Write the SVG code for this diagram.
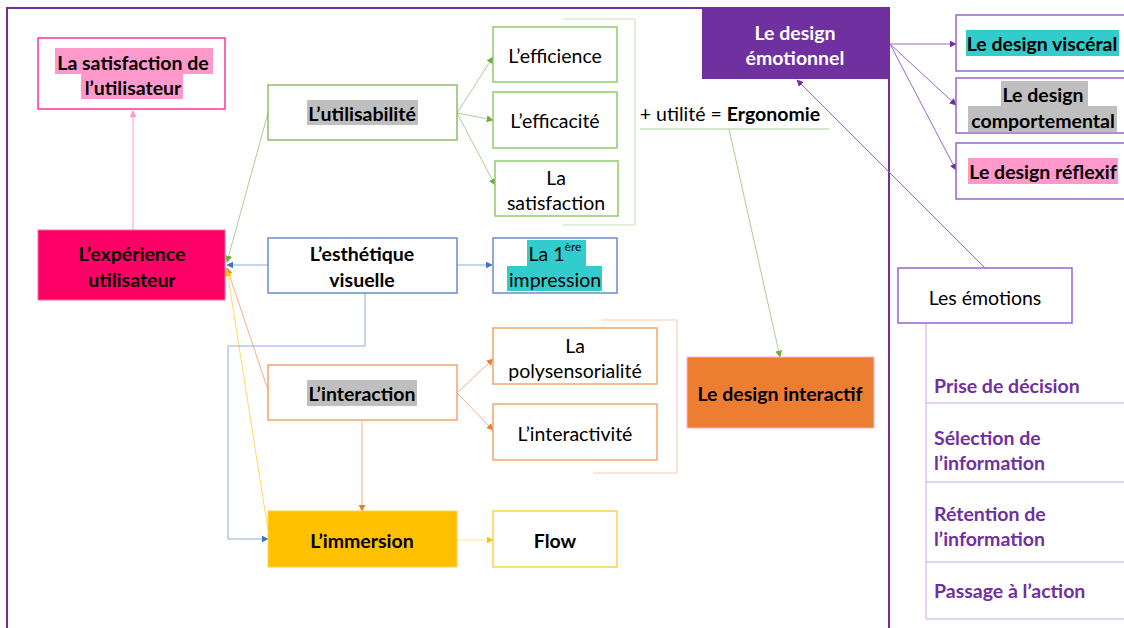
<svg xmlns="http://www.w3.org/2000/svg" width="1124" height="628" viewBox="0 0 1124 628">
<defs>
<style>
text{font-family:Lato,"Open Sans","Liberation Sans",sans-serif;font-size:19.5px;fill:#000;text-anchor:middle;dominant-baseline:central}
.b{font-weight:bold}
.w{fill:#fff}
.p{fill:#7030A0;font-weight:bold;text-anchor:start}
.box{fill:#fff;stroke-width:1.5}
.c{fill:none;stroke-width:1}
</style>
<marker id="ag" viewBox="0 0 10 10" refX="9" refY="5" markerWidth="7" markerHeight="7" orient="auto"><path d="M0,0L10,5L0,10z" fill="#70AD47"/></marker>
<marker id="ab" viewBox="0 0 10 10" refX="9" refY="5" markerWidth="7" markerHeight="7" orient="auto"><path d="M0,0L10,5L0,10z" fill="#4472C4"/></marker>
<marker id="ao" viewBox="0 0 10 10" refX="9" refY="5" markerWidth="7" markerHeight="7" orient="auto"><path d="M0,0L10,5L0,10z" fill="#ED7D31"/></marker>
<marker id="ay" viewBox="0 0 10 10" refX="9" refY="5" markerWidth="7" markerHeight="7" orient="auto"><path d="M0,0L10,5L0,10z" fill="#FFC000"/></marker>
<marker id="ap" viewBox="0 0 10 10" refX="9" refY="5" markerWidth="7" markerHeight="7" orient="auto"><path d="M0,0L10,5L0,10z" fill="#FF99CC"/></marker>
<marker id="av" viewBox="0 0 10 10" refX="9" refY="5" markerWidth="7" markerHeight="7" orient="auto"><path d="M0,0L10,5L0,10z" fill="#7030A0"/></marker>
</defs>
<rect width="1124" height="628" fill="#fff"/>
<rect id="frame" x="7" y="8" width="882" height="640" fill="none" stroke="#7030A0" stroke-width="2"/>

<g id="connectors">
<line class="c" x1="133" y1="230" x2="133" y2="111" stroke="#FF99CC" marker-end="url(#ap)"/>
<line class="c" x1="268" y1="113" x2="227" y2="262" stroke="#A9D18E" marker-end="url(#ag)"/>
<line class="c" x1="268" y1="265" x2="227" y2="265" stroke="#8FAADC" marker-end="url(#ab)"/>
<line class="c" x1="268" y1="390" x2="227" y2="268" stroke="#F4B183" marker-end="url(#ao)"/>
<line class="c" x1="268" y1="530" x2="227" y2="270" stroke="#FFD966" marker-end="url(#ay)"/>
<line class="c" x1="457" y1="113" x2="493" y2="57" stroke="#A9D18E" marker-end="url(#ag)"/>
<line class="c" x1="457" y1="113" x2="493" y2="120" stroke="#A9D18E" marker-end="url(#ag)"/>
<line class="c" x1="457" y1="113" x2="495" y2="185" stroke="#A9D18E" marker-end="url(#ag)"/>
<path class="c" d="M563,19H635V225H563" stroke="#C5E0B4"/>
<line class="c" x1="640" y1="129" x2="829" y2="129" stroke="#A9D18E"/>
<line class="c" x1="729" y1="129" x2="780" y2="357" stroke="#A9D18E" marker-end="url(#ag)"/>
<line class="c" x1="457" y1="265" x2="492" y2="265" stroke="#8FAADC" marker-end="url(#ab)"/>
<path class="c" d="M365,293V346H228V539H268" stroke="#8FAADC" marker-end="url(#ab)"/>
<line class="c" x1="457" y1="393" x2="493" y2="359" stroke="#F4B183" marker-end="url(#ao)"/>
<line class="c" x1="457" y1="393" x2="493" y2="430" stroke="#F4B183" marker-end="url(#ao)"/>
<line class="c" x1="362" y1="420" x2="362" y2="511" stroke="#F4B183" marker-end="url(#ao)"/>
<path class="c" d="M601,320H677V473H593" stroke="#F8CBAD"/>
<line class="c" x1="457" y1="540" x2="493" y2="540" stroke="#FFE699" marker-end="url(#ay)"/>
<line class="c" x1="890" y1="44" x2="956" y2="44" stroke="#9966CC" marker-end="url(#av)"/>
<line class="c" x1="890" y1="44" x2="956" y2="105" stroke="#9966CC" marker-end="url(#av)"/>
<line class="c" x1="890" y1="44" x2="956" y2="170" stroke="#9966CC" marker-end="url(#av)"/>
<line class="c" x1="985" y1="268" x2="797" y2="80" stroke="#9966CC" marker-end="url(#av)"/>
<path class="c" d="M926,323V619" stroke="#C9A8E0"/>
<path class="c" d="M926,403H1124M926,482H1124M926,562H1124M926,619H1124" stroke="#C9A8E0"/>
</g>

<g id="satisfaction-utilisateur">
<rect class="box" x="38" y="38" width="187" height="71" stroke="#FF3399"/>
<rect x="55" y="48" width="158" height="26" fill="#FF99CC"/>
<rect x="81" y="74" width="102" height="25" fill="#FF99CC"/>
<text class="b" x="133" y="62">La satisfaction de</text>
<text class="b" x="133" y="87">l’utilisateur</text>
</g>
<g id="experience-utilisateur">
<rect x="38" y="230" width="187" height="70" fill="#FF0066" stroke="#FF66A0"/>
<text class="b" x="132" y="253">L’expérience</text>
<text class="b" x="132" y="279">utilisateur</text>
</g>
<g id="utilisabilite">
<rect class="box" x="268" y="85" width="189" height="55" stroke="#70AD47" stroke-opacity="0.8"/>
<rect x="307" y="100" width="111" height="25" fill="#BFBFBF"/>
<text class="b" x="362" y="113">L’utilisabilité</text>
</g>
<g id="efficience">
<rect class="box" x="493" y="27" width="124" height="55" stroke="#8FCB6A"/>
<text x="555" y="55">L’efficience</text>
</g>
<g id="efficacite">
<rect class="box" x="493" y="92" width="124" height="56" stroke="#8FCB6A"/>
<text x="555" y="120">L’efficacité</text>
</g>
<g id="la-satisfaction">
<rect class="box" x="495" y="161" width="123" height="55" stroke="#8FCB6A"/>
<text x="556" y="177">La</text>
<text x="556" y="202">satisfaction</text>
</g>
<g id="ergonomie">
<text x="730" y="113">+ utilité = <tspan class="b">Ergonomie</tspan></text>
</g>
<g id="esthetique">
<rect class="box" x="268" y="238" width="189" height="55" stroke="#4472C4" stroke-opacity="0.8"/>
<text class="b" x="362" y="253">L’esthétique</text>
<text class="b" x="362" y="279">visuelle</text>
</g>
<g id="premiere-impression">
<rect class="box" x="493" y="238" width="124" height="55" stroke="#4472C4" stroke-opacity="0.8"/>
<rect x="527" y="240" width="59" height="26" fill="#33CCCC"/>
<rect x="507" y="266" width="95" height="25" fill="#33CCCC"/>
<text x="555" y="253">La 1<tspan font-size="12" dy="-7">ère</tspan></text>
<text x="555" y="279">impression</text>
</g>
<g id="interaction">
<rect class="box" x="268" y="365" width="189" height="55" stroke="#F4A46B"/>
<rect x="307" y="380" width="110" height="26" fill="#BFBFBF"/>
<text class="b" x="362" y="393">L’interaction</text>
</g>
<g id="polysensorialite">
<rect class="box" x="493" y="328" width="164" height="56" stroke="#F4A46B"/>
<text x="575" y="345">La</text>
<text x="575" y="370">polysensorialité</text>
</g>
<g id="interactivite">
<rect class="box" x="493" y="404" width="164" height="56" stroke="#F4A46B"/>
<text x="575" y="433">L’interactivité</text>
</g>
<g id="design-interactif">
<rect x="687" y="357" width="187" height="71" fill="#ED7D31" stroke="#FFB3D1"/>
<text class="b" x="780" y="393">Le design interactif</text>
</g>
<g id="immersion">
<rect x="268" y="511" width="189" height="56" fill="#FFC000" stroke="#FFD34D"/>
<text class="b" x="362" y="540">L’immersion</text>
</g>
<g id="flow">
<rect class="box" x="493" y="511" width="124" height="56" stroke="#FFD34D"/>
<text class="b" x="555" y="540">Flow</text>
</g>
<g id="design-emotionnel">
<rect x="702" y="8" width="188" height="71" fill="#7030A0"/>
<text class="b w" x="795" y="32">Le design</text>
<text class="b w" x="795" y="57">émotionnel</text>
</g>
<g id="design-visceral">
<rect class="box" x="956" y="15" width="180" height="56" stroke="#9966CC"/>
<rect x="966" y="30" width="153" height="26" fill="#33CCCC"/>
<text class="b" x="1042" y="43">Le design viscéral</text>
</g>
<g id="design-comportemental">
<rect class="box" x="956" y="78" width="180" height="55" stroke="#9966CC"/>
<rect x="1001" y="81" width="87" height="25" fill="#BFBFBF"/>
<rect x="968" y="106" width="149" height="26" fill="#BFBFBF"/>
<text class="b" x="1043" y="94">Le design</text>
<text class="b" x="1043" y="120">comportemental</text>
</g>
<g id="design-reflexif">
<rect class="box" x="956" y="143" width="180" height="56" stroke="#9966CC"/>
<rect x="968" y="158" width="150" height="26" fill="#FF99CC"/>
<text class="b" x="1043" y="171">Le design réflexif</text>
</g>
<g id="emotions">
<rect class="box" x="898" y="268" width="174" height="55" stroke="#9966CC"/>
<text x="985" y="297">Les émotions</text>
</g>
<g id="emotions-list">
<text class="p" x="934" y="385">Prise de décision</text>
<text class="p" x="934" y="437">Sélection de</text>
<text class="p" x="934" y="462">l’information</text>
<text class="p" x="934" y="513">Rétention de</text>
<text class="p" x="934" y="538">l’information</text>
<text class="p" x="934" y="590">Passage à l’action</text>
</g>
</svg>
